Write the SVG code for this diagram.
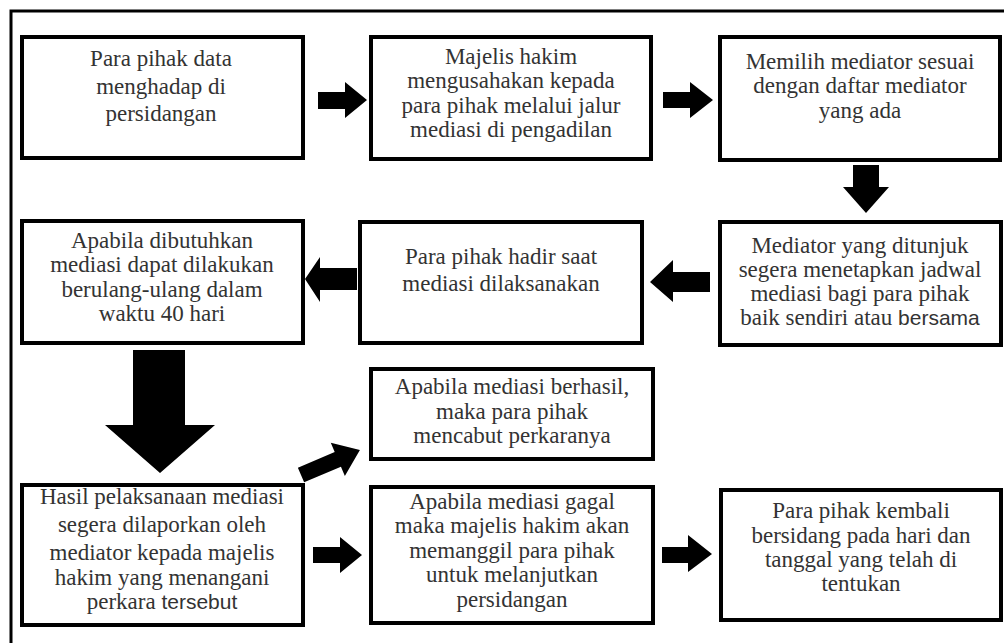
<svg xmlns="http://www.w3.org/2000/svg" width="1004" height="643" viewBox="0 0 1004 643">
<style>
.box{fill:#fff;stroke:#000;stroke-width:4}
.arr{fill:#000}
</style>
<rect width="1004" height="643" fill="#fff"/>
<path d="M11,643 V11 H1004" fill="none" stroke="#000" stroke-width="3"/>
<g id="connectors">
<polygon class="arr" points="318,92 345,92 345,82 367,100 345,118 345,109 318,109"/>
<polygon class="arr" points="663,92 690,92 690,82 713,100 690,118 690,108 663,108"/>
<polygon class="arr" points="853,165 879,165 879,187 889,187 866,213 843,187 853,187"/>
<polygon class="arr" points="710,272 673,272 673,260 650,282 673,302 673,292 710,292"/>
<polygon class="arr" points="357,268 320,268 320,257 305,279 320,302 320,290 357,290"/>
<polygon class="arr" points="133,350 185,350 185,425 215,425 160,473 105,425 133,425"/>
<polygon class="arr" points="0,-8 40,-8 40,-18 64,0 40,18 40,8 0,8" transform="translate(301,475) rotate(-23)"/>
<polygon class="arr" points="313,547 340,547 340,537 362,555 340,573 340,563 313,563"/>
<polygon class="arr" points="662,547 688,547 688,535 712,554 688,572 688,563 662,563"/>
</g>
<g font-family="Liberation Serif, Times New Roman, serif" font-size="23" fill="#333" text-anchor="middle">
<g id="n1"><rect class="box" x="22" y="37" width="281" height="121"/>
<text><tspan x="161" y="66">Para pihak data</tspan><tspan x="161" y="94">menghadap di</tspan><tspan x="161" y="121">persidangan</tspan></text></g>
<g id="n2"><rect class="box" x="371" y="37" width="280" height="122"/>
<text><tspan x="511" y="64">Majelis hakim</tspan><tspan x="511" y="88">mengusahakan kepada</tspan><tspan x="511" y="113">para pihak melalui jalur</tspan><tspan x="511" y="137">mediasi di pengadilan</tspan></text></g>
<g id="n3"><rect class="box" x="720" y="37" width="280" height="123"/>
<text><tspan x="860" y="69">Memilih mediator sesuai</tspan><tspan x="860" y="93">dengan daftar mediator</tspan><tspan x="860" y="118">yang ada</tspan></text></g>
<g id="n4"><rect class="box" x="22" y="221" width="281" height="122"/>
<text><tspan x="162" y="248">Apabila dibutuhkan</tspan><tspan x="162" y="272">mediasi dapat dilakukan</tspan><tspan x="162" y="297">berulang-ulang dalam</tspan><tspan x="162" y="321">waktu 40 hari</tspan></text></g>
<g id="n5"><rect class="box" x="360" y="222" width="282" height="121"/>
<text><tspan x="501" y="264">Para pihak hadir saat</tspan><tspan x="501" y="291">mediasi dilaksanakan</tspan></text></g>
<g id="n6"><rect class="box" x="720" y="222" width="281" height="123"/>
<text><tspan x="860" y="253">Mediator yang ditunjuk</tspan><tspan x="860" y="277">segera menetapkan jadwal</tspan><tspan x="860" y="301">mediasi bagi para pihak</tspan><tspan x="860" y="325">baik sendiri atau <tspan font-family="Liberation Sans, Arial, sans-serif" font-size="21">bersama</tspan></tspan></text></g>
<g id="n7"><rect class="box" x="22" y="485" width="281" height="140"/>
<text><tspan x="162" y="504">Hasil pelaksanaan mediasi</tspan><tspan x="162" y="532">segera dilaporkan oleh</tspan><tspan x="162" y="560">mediator kepada majelis</tspan><tspan x="162" y="585">hakim yang menangani</tspan><tspan x="162" y="609">perkara <tspan font-family="Liberation Sans, Arial, sans-serif" font-size="21">tersebut</tspan></tspan></text></g>
<g id="n8"><rect class="box" x="371" y="369" width="282" height="90"/>
<text><tspan x="512" y="394">Apabila mediasi berhasil,</tspan><tspan x="512" y="419">maka para pihak</tspan><tspan x="512" y="443">mencabut perkaranya</tspan></text></g>
<g id="n9"><rect class="box" x="371" y="487" width="282" height="136"/>
<text><tspan x="512" y="509">Apabila mediasi gagal</tspan><tspan x="512" y="533">maka majelis hakim akan</tspan><tspan x="512" y="558">memanggil para pihak</tspan><tspan x="512" y="582">untuk melanjutkan</tspan><tspan x="512" y="607">persidangan</tspan></text></g>
<g id="n10"><rect class="box" x="721" y="490" width="280" height="130"/>
<text><tspan x="861" y="518">Para pihak kembali</tspan><tspan x="861" y="543">bersidang pada hari dan</tspan><tspan x="861" y="567">tanggal yang telah di</tspan><tspan x="861" y="591">tentukan</tspan></text></g>
</g>
</svg>
